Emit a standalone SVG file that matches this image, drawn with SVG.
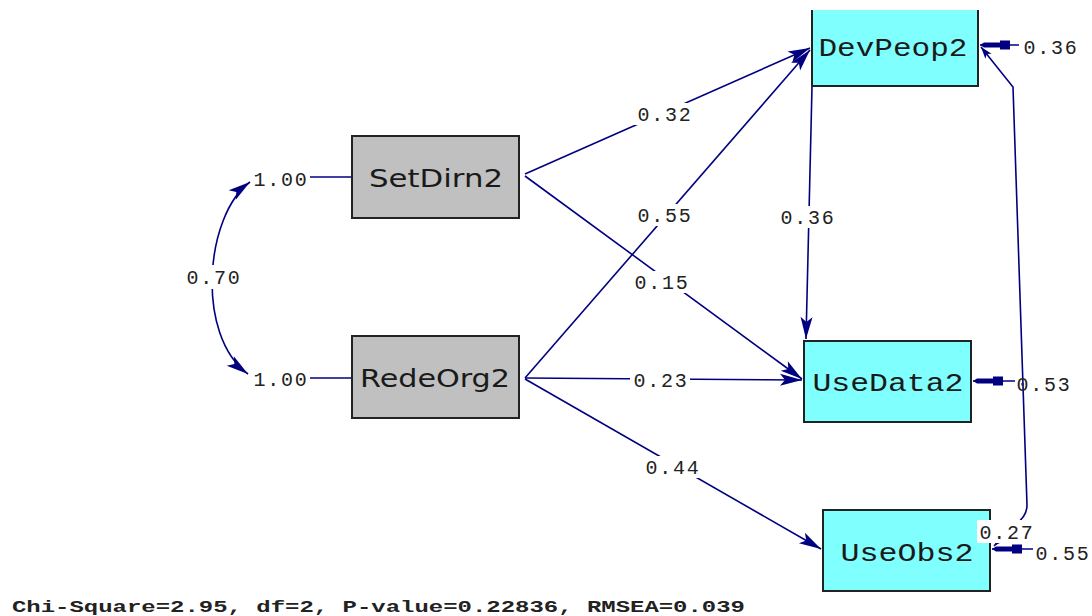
<svg xmlns="http://www.w3.org/2000/svg" width="1092" height="616" viewBox="0 0 1092 616">
<style>
.ln{fill:none;stroke:#000080;stroke-width:1.6}
.lbl{font-family:"Liberation Mono",monospace;font-size:20px;fill:#222;text-anchor:middle;letter-spacing:1.8px}
.bg{fill:#fff}
.gbox{fill:#c0c0c0;stroke:#222;stroke-width:2}
.cbox{fill:#80ffff;stroke:#222;stroke-width:2}
.st{font-family:"DejaVu Sans",sans-serif;font-size:25px;fill:#1a1a1a;text-anchor:middle}
.mt{font-family:"Liberation Mono",monospace;font-size:26px;fill:#1a1a1a;text-anchor:middle}
</style>
<defs>
<marker id="ah" markerUnits="userSpaceOnUse" viewBox="-24 -8 26 16" refX="0" refY="0" markerWidth="26" markerHeight="16" orient="auto-start-reverse">
<path d="M0,0 L-22,-6 L-17,0 L-22,6 Z" fill="#000080"/>
</marker>
<marker id="sh" markerUnits="userSpaceOnUse" viewBox="-32 -6 34 12" refX="0" refY="0" markerWidth="34" markerHeight="12" orient="auto-start-reverse">
<path d="M0,0 L-4,-2.5 L-20,-2.5 L-20,-4.5 L-30,-4.5 L-30,4.5 L-20,4.5 L-20,2.5 L-4,2.5 Z" fill="#000080"/>
</marker>
<marker id="ch" markerUnits="userSpaceOnUse" viewBox="-14 -6 16 12" refX="0" refY="0" markerWidth="16" markerHeight="12" orient="auto-start-reverse">
<path d="M0,0 L-12,-4 L-9,0 L-12,4 Z" fill="#000080"/>
</marker>
</defs>
<rect width="1092" height="616" fill="#fff"/>
<g id="connectors">
<line class="ln" x1="525" y1="174" x2="810" y2="48" marker-end="url(#ah)"/>
<line class="ln" x1="525" y1="176" x2="802" y2="379" marker-end="url(#ah)"/>
<line class="ln" x1="525" y1="378" x2="810" y2="50" marker-end="url(#ah)"/>
<line class="ln" x1="525" y1="378" x2="802" y2="380" marker-end="url(#ah)"/>
<line class="ln" x1="525" y1="379" x2="821" y2="549" marker-end="url(#ah)"/>
<line class="ln" x1="812" y1="87" x2="806" y2="339" marker-end="url(#ah)"/>
<path class="ln" d="M250 182 C205 215 195 335 248 374" marker-start="url(#ah)" marker-end="url(#ah)"/>
<line class="ln" x1="310" y1="177" x2="352" y2="177"/>
<line class="ln" x1="310" y1="378" x2="352" y2="378"/>
<line class="ln" x1="1019" y1="45" x2="980" y2="45" marker-end="url(#sh)"/>
<line class="ln" x1="1015" y1="381" x2="973" y2="381" marker-end="url(#sh)"/>
<line class="ln" x1="1033" y1="549" x2="992" y2="549" marker-end="url(#sh)"/>
<path class="ln" d="M981 47 L1013 87 L1027 505 Q1027 516 1016 524 L994 546" marker-start="url(#ch)" marker-end="url(#ch)"/>
</g>
<g id="SetDirn2">
<rect class="gbox" x="352" y="136" width="167" height="82"/>
<text class="st" x="436" y="187" textLength="134" lengthAdjust="spacingAndGlyphs">SetDirn2</text>
</g>
<g id="RedeOrg2">
<rect class="gbox" x="352" y="336" width="167" height="82"/>
<text class="st" x="435" y="387" textLength="150" lengthAdjust="spacingAndGlyphs">RedeOrg2</text>
</g>
<g id="DevPeop2">
<rect x="812" y="10" width="166" height="76" fill="#80ffff"/>
<path d="M812 10 V86 H978 V10" fill="none" stroke="#222" stroke-width="2"/>
<text class="mt" x="893" y="56" textLength="149" lengthAdjust="spacingAndGlyphs">DevPeop2</text>
</g>
<g id="UseData2">
<rect class="cbox" x="804" y="341" width="167" height="81"/>
<text class="mt" x="888" y="391" textLength="151" lengthAdjust="spacingAndGlyphs">UseData2</text>
</g>
<g id="UseObs2">
<rect class="cbox" x="823" y="510" width="167" height="81"/>
<text class="mt" x="907" y="561" textLength="133" lengthAdjust="spacingAndGlyphs">UseObs2</text>
</g>
<g id="labels">
<rect class="bg" x="633" y="103" width="62" height="22"/>
<text class="lbl" x="665" y="121">0.32</text>
<rect class="bg" x="633" y="204" width="62" height="22"/>
<text class="lbl" x="665" y="222">0.55</text>
<rect class="bg" x="630" y="271" width="62" height="22"/>
<text class="lbl" x="662" y="289">0.15</text>
<rect class="bg" x="777" y="206" width="60" height="22"/>
<text class="lbl" x="808" y="224">0.36</text>
<rect class="bg" x="630" y="369" width="60" height="22"/>
<text class="lbl" x="661" y="387">0.23</text>
<rect class="bg" x="641" y="456" width="62" height="22"/>
<text class="lbl" x="673" y="474">0.44</text>
<rect class="bg" x="183" y="265" width="60" height="24"/>
<text class="lbl" x="214" y="284">0.70</text>
<text class="lbl" x="281" y="186">1.00</text>
<text class="lbl" x="281" y="386">1.00</text>
<text class="lbl" x="1051" y="54">0.36</text>
<text class="lbl" x="1044" y="391">0.53</text>
<rect class="bg" x="977" y="520" width="60" height="23"/>
<text class="lbl" x="1007" y="539">0.27</text>
<text class="lbl" x="1063" y="560">0.55</text>
</g>
<text x="12" y="612" font-family="Liberation Mono, monospace" font-weight="bold" font-size="17" fill="#222" textLength="733" lengthAdjust="spacingAndGlyphs">Chi-Square=2.95, df=2, P-value=0.22836, RMSEA=0.039</text>
</svg>
